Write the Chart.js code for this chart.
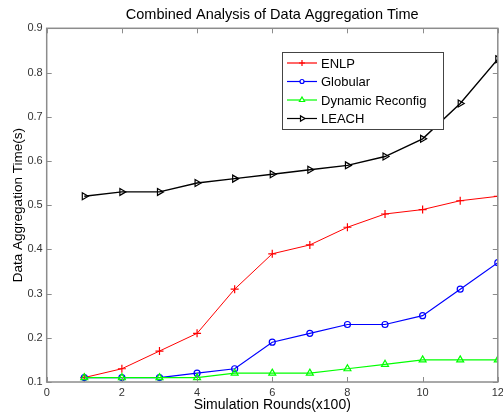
<!DOCTYPE html>
<html>
<head>
<meta charset="utf-8">
<script src="https://cdn.jsdelivr.net/npm/chart.js@4.4.0/dist/chart.umd.min.js"></script>
<style>
html, body { margin: 0; padding: 0; background: #fff; }
#wrap { width: 503px; height: 414px; }
</style>
</head>
<body>
<div id="wrap"><canvas id="aggChart" width="503" height="414"></canvas></div>
<script>
// data
var rounds = [1, 2, 3, 4, 5, 6, 7, 8, 9, 10, 11, 12];
var enlp = [0.11, 0.13, 0.17, 0.21, 0.31, 0.39, 0.41, 0.45, 0.48, 0.49, 0.51, 0.52];
var globular = [0.11, 0.11, 0.11, 0.12, 0.13, 0.19, 0.21, 0.23, 0.23, 0.25, 0.31, 0.37];
var dynamicReconfig = [0.11, 0.11, 0.11, 0.11, 0.12, 0.12, 0.12, 0.13, 0.14, 0.15, 0.15, 0.15];
var leach = [0.52, 0.53, 0.53, 0.55, 0.56, 0.57, 0.58, 0.59, 0.61, 0.65, 0.73, 0.83];
var xTicks = [0, 2, 4, 6, 8, 10, 12];
var yTicks = [0.1, 0.2, 0.3, 0.4, 0.5, 0.6, 0.7, 0.8, 0.9];
var chartTitle = 'Combined Analysis of Data Aggregation Time';

var FONT = "'Liberation Sans', Arial, sans-serif";
var AXIS_GREY = '#8c8c8c';

function pts(ys) {
    return rounds.map(function(r, i) { return { x: r, y: ys[i] }; });
}

// matlab style box with inward ticks, title centred over the axes
var boxPlugin = {
    id: 'matlabBox',
    afterDatasetsDraw: function(chart) {
        var ctx = chart.ctx;
        var a = chart.chartArea;
        var xs = chart.scales.x, ys = chart.scales.y;
        ctx.save();
        ctx.strokeStyle = AXIS_GREY;
        ctx.lineWidth = 1.5;
        ctx.strokeRect(a.left, a.top, a.right - a.left, a.bottom - a.top);
        ctx.lineWidth = 1;
        ctx.beginPath();
        xTicks.forEach(function(v) {
            var px = Math.round(xs.getPixelForValue(v)) + 0.5;
            ctx.moveTo(px, a.bottom); ctx.lineTo(px, a.bottom - 5);
            ctx.moveTo(px, a.top); ctx.lineTo(px, a.top + 5);
        });
        yTicks.forEach(function(v) {
            var py = Math.round(ys.getPixelForValue(v)) + 0.5;
            ctx.moveTo(a.left, py); ctx.lineTo(a.left + 5, py);
            ctx.moveTo(a.right, py); ctx.lineTo(a.right - 5, py);
        });
        ctx.stroke();

        ctx.fillStyle = '#000';
        ctx.font = '14.5px ' + FONT;
        ctx.textAlign = 'center';
        ctx.textBaseline = 'middle';
        ctx.fillText(chartTitle, (a.left + a.right) / 2, 15);
        ctx.restore();
    }
};

// legend box inside the axes (upper right)
var legendPlugin = {
    id: 'matlabLegend',
    afterDraw: function(chart) {
        var ctx = chart.ctx;
        var x0 = 282, y0 = 52, w = 161, h = 77;
        ctx.save();
        ctx.fillStyle = '#fff';
        ctx.fillRect(x0, y0, w, h);
        ctx.strokeStyle = '#444';
        ctx.lineWidth = 1;
        ctx.strokeRect(x0 + 0.5, y0 + 0.5, w, h);
        ctx.font = '13px ' + FONT;
        ctx.textBaseline = 'middle';
        chart.data.datasets.forEach(function(ds, i) {
            var cy = y0 + 11 + i * 18.5;
            ctx.strokeStyle = ds.borderColor;
            ctx.lineWidth = 1.2;
            ctx.beginPath();
            ctx.moveTo(x0 + 5, cy); ctx.lineTo(x0 + 35, cy);
            ctx.stroke();
            ctx.fillStyle = '#fff';
            Chart.helpers.drawPoint(ctx, {
                pointStyle: ds.pointStyle,
                rotation: ds.pointRotation || 0,
                radius: ds.pointRadius - 1,
                borderWidth: 1.2
            }, x0 + 20, cy);
            ctx.fillStyle = '#000';
            ctx.fillText(ds.label, x0 + 39, cy + 1);
        });
        ctx.restore();
    }
};

var ctx = document.getElementById('aggChart').getContext('2d');

var aggChart = new Chart(ctx, {
    type: 'line',
    data: {
        datasets: [{
            label: 'ENLP',
            data: pts(enlp),
            borderColor: '#ff0000',
            borderWidth: 1,
            pointStyle: 'cross',
            pointRadius: 4,
            pointBorderWidth: 1.2,
            pointBackgroundColor: 'transparent',
            order: 4
        }, {
            label: 'Globular',
            data: pts(globular),
            borderColor: '#0000ff',
            borderWidth: 1.2,
            pointStyle: 'circle',
            pointRadius: 3,
            pointBorderWidth: 1.2,
            pointBackgroundColor: 'transparent',
            order: 3
        }, {
            label: 'Dynamic Reconfig',
            data: pts(dynamicReconfig),
            borderColor: '#00ff00',
            borderWidth: 1.2,
            pointStyle: 'triangle',
            pointRadius: 4,
            pointBorderWidth: 1.2,
            pointBackgroundColor: 'transparent',
            order: 2
        }, {
            label: 'LEACH',
            data: pts(leach),
            borderColor: '#000000',
            borderWidth: 1.4,
            pointStyle: 'triangle',
            pointRotation: 90,
            pointRadius: 4,
            pointBorderWidth: 1.2,
            pointBackgroundColor: 'transparent',
            order: 1
        }]
    },
    options: {
        responsive: false,
        animation: false,
        devicePixelRatio: 1,
        layout: {
            padding: { top: 28.3, right: 5, bottom: 0, left: 10 }
        },
        plugins: {
            legend: { display: false },
            tooltip: { enabled: false },
            title: { display: false }
        },
        scales: {
            x: {
                type: 'linear',
                min: 0,
                max: 12,
                ticks: {
                    stepSize: 2,
                    color: '#333',
                    font: { family: FONT, size: 11 },
                    padding: 4,
                    maxRotation: 0
                },
                grid: { display: false, drawTicks: false },
                border: { display: false },
                title: {
                    display: true,
                    text: 'Simulation Rounds(x100)',
                    color: '#000',
                    font: { family: FONT, size: 14 },
                    padding: 0
                },
                afterFit: function(scale) {
                    scale.height = 32;
                    scale.paddingLeft = 0;
                    scale.paddingRight = 0;
                }
            },
            y: {
                min: 0.1,
                max: 0.9,
                ticks: {
                    stepSize: 0.1,
                    color: '#333',
                    font: { family: FONT, size: 11 },
                    padding: 4,
                    callback: function(v) { return v.toFixed(1); }
                },
                grid: { display: false, drawTicks: false },
                border: { display: false },
                title: {
                    display: true,
                    text: 'Data Aggregation Time(s)',
                    color: '#000',
                    font: { family: FONT, size: 13.5 },
                    padding: 0
                },
                afterFit: function(scale) {
                    scale.width = 36.7;
                    scale.paddingTop = 0;
                    scale.paddingBottom = 0;
                }
            }
        }
    },
    plugins: [boxPlugin, legendPlugin]
});
</script>
</body>
</html>
